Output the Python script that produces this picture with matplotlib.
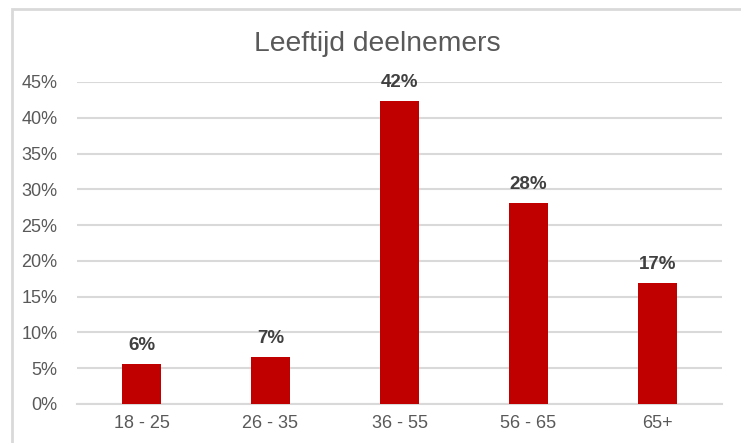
import matplotlib.pyplot as plt
import matplotlib.patches as patches
from matplotlib.ticker import FuncFormatter

plt.rcParams['font.family'] = ['Liberation Sans', 'DejaVu Sans']

categories = ['18 - 25', '26 - 35', '36 - 55', '56 - 65', '65+']
shares = [0.0563, 0.0657, 0.4239, 0.2812, 0.1695]
labels = ['6%', '7%', '42%', '28%', '17%']

fig = plt.figure(figsize=(7.41, 4.43), dpi=100, facecolor='white')
ax = fig.add_axes([77 / 741, 39 / 443, 645 / 741, 322 / 443])

# chart frame (only top and left edge visible in the crop)
fig.patches.append(patches.Rectangle((12 / 741, -0.1), 1.2, 1 - 9 / 443 + 0.1,
                                     transform=fig.transFigure, fill=False,
                                     edgecolor='#D9D9D9', linewidth=2))

x = range(len(categories))
bars = ax.bar(x, shares, width=0.31, color='#C00000', zorder=3)

for b, lab in zip(bars, labels):
    ax.text(b.get_x() + b.get_width() / 2, b.get_height() + 0.014, lab,
            ha='center', va='bottom', fontsize=13.5, fontweight='bold', color='#404040')

ax.set_ylim(0, 0.45)
ax.set_xlim(-0.5, len(categories) - 0.5)
ax.set_yticks([i * 0.05 for i in range(10)])
ax.yaxis.set_major_formatter(FuncFormatter(lambda v, p: f'{v * 100:.0f}%'))
ax.set_xticks(list(x))
ax.set_xticklabels(categories)
ax.tick_params(axis='both', length=0, labelsize=13, labelcolor='#595959')
ax.tick_params(axis='y', pad=14)
ax.tick_params(axis='x', pad=8)
ax.grid(axis='y', color='#D9D9D9', linewidth=1.5, zorder=0)
for s in ['top', 'right', 'left']:
    ax.spines[s].set_visible(False)
ax.spines['bottom'].set_color('#D9D9D9')
ax.spines['bottom'].set_linewidth(1.5)

fig.text(0.5 + 7 / 741, 1 - 44 / 443, 'Leeftijd deelnemers', ha='center', va='center',
         fontsize=20.3, color='#595959')

plt.savefig('out.png', dpi=100, facecolor='white')
